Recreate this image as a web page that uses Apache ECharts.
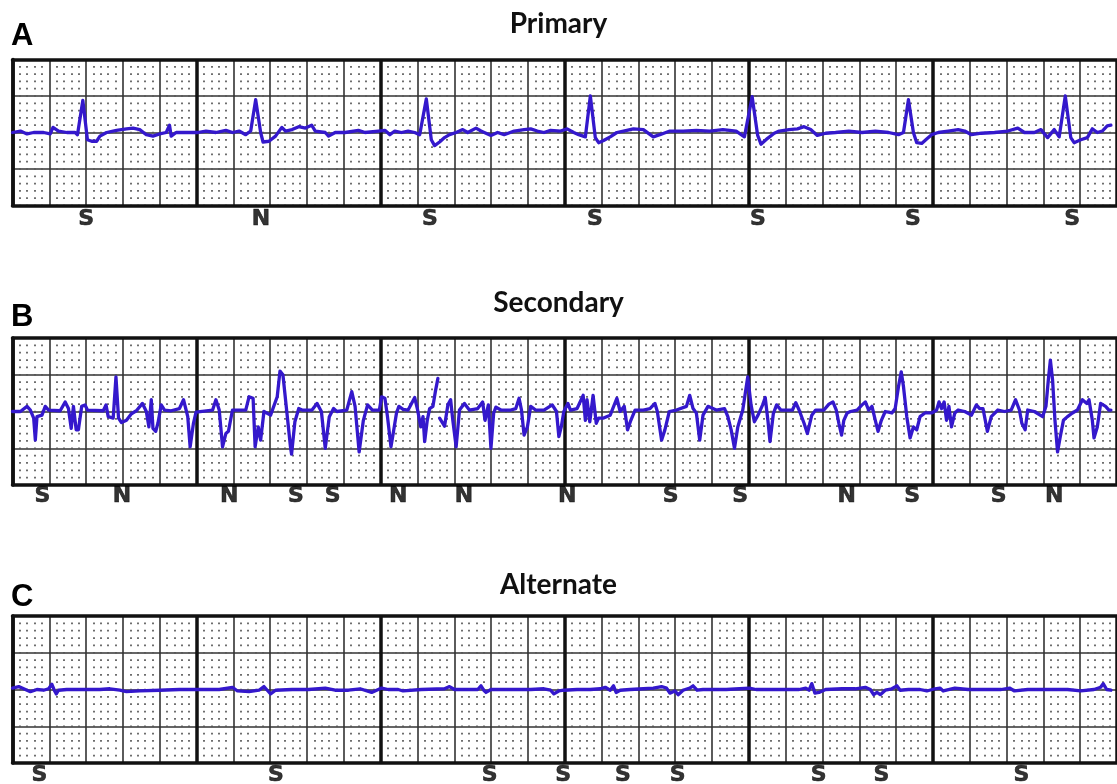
<!DOCTYPE html>
<html>
<head>
<meta charset="utf-8">
<script src="https://cdn.jsdelivr.net/npm/echarts@6/dist/echarts.min.js"></script>
<style>
html,body{margin:0;padding:0;background:#fff;}
#chart{width:1117px;height:784px;}
</style>
</head>
<body>
<div id="chart"></div>
<script>
// time in ms, amplitude in mV
const primaryTrace = [
[0,0],[43,0.02],[79,-0.02],[115,0],[169,0],[205,-0.02],[220,0.07],[250,0.02],[295,0],[340,0],[353,-0.03],[382,0.44],[407,-0.10],[430,-0.12],[457,-0.12],[475,-0.05],[511,0],[565,0.03],[619,0.05],[655,0.06],[691,0.04],[727,-0.03],[763,-0.05],[799,-0.02],[835,0],[853,0.10],[862,-0.05],[889,0],[943,0],[1006,0],[1051,0.02],[1105,0],[1159,0.03],[1195,0],[1231,0.02],[1267,-0.03],[1294,0.02],[1321,0.45],[1348,0],[1361,-0.13],[1393,-0.12],[1429,-0.05],[1463,0.07],[1483,0.02],[1519,0.04],[1555,0.08],[1591,0.06],[1625,0.10],[1645,0.02],[1699,0],[1717,-0.05],[1753,0],[1807,0],[1879,0.03],[1915,0],[1987,0.02],[2023,0.03],[2050,-0.03],[2077,0.02],[2113,0],[2149,0.02],[2185,0],[2212,-0.03],[2248,0.46],[2275,-0.10],[2293,-0.18],[2320,-0.13],[2347,-0.07],[2374,-0.03],[2410,0],[2446,0.04],[2473,0],[2518,0.06],[2545,0.02],[2599,-0.04],[2635,0],[2671,-0.03],[2725,0.02],[2779,0.04],[2815,0.05],[2851,0.02],[2887,0],[2923,0.03],[2977,0.02],[3013,0.05],[3049,0],[3076,-0.03],[3112,-0.06],[3139,0.50],[3166,-0.07],[3184,-0.14],[3211,-0.11],[3247,-0.06],[3283,0],[3319,0.02],[3373,0.05],[3427,0.04],[3481,-0.06],[3517,-0.03],[3571,0.02],[3643,0.02],[3715,0.03],[3787,0.02],[3859,0.04],[3931,0.02],[3976,-0.06],[4018,0.49],[4048,-0.04],[4066,-0.16],[4102,-0.08],[4138,-0.01],[4165,0.02],[4219,0.04],[4264,0.05],[4300,0.08],[4336,0.04],[4372,-0.04],[4417,-0.01],[4471,0],[4543,0.02],[4615,0],[4687,0.02],[4759,0],[4813,-0.03],[4840,0],[4867,0.45],[4894,0],[4912,-0.14],[4939,-0.15],[4966,-0.09],[4993,-0.03],[5029,0],[5083,0.02],[5137,0.04],[5173,0.02],[5209,-0.03],[5263,-0.01],[5335,0],[5407,0.02],[5461,0.06],[5497,0],[5551,0],[5587,0.04],[5623,-0.07],[5659,0.04],[5686,-0.06],[5719,0.50],[5749,-0.07],[5767,-0.14],[5803,-0.10],[5839,-0.07],[5866,0.05],[5893,0],[5920,0.02],[5947,0.09],[5967,0.10]
];

const secondaryTrace = [
[0,0],[43,0],[79,0.07],[97,0.02],[115,-0.09],[124,-0.39],[133,-0.07],[160,-0.05],[178,0.07],[196,0.02],[259,0.01],[286,0.13],[304,0.04],[319,-0.23],[331,0.07],[346,-0.25],[358,-0.25],[376,0.07],[394,0.09],[407,0.02],[493,0.01],[508,0.09],[520,-0.07],[547,-0.09],[562,0.47],[576,-0.09],[592,-0.15],[619,-0.12],[646,-0.03],[673,0.01],[706,0.11],[727,0],[741,-0.21],[754,0.16],[763,-0.23],[778,-0.27],[790,-0.16],[808,0.09],[826,0.02],[862,0.01],[907,0.04],[929,0.16],[952,-0.07],[965,-0.48],[983,-0.16],[997,-0.01],[1087,0.02],[1105,0.16],[1123,0.02],[1141,-0.48],[1159,-0.30],[1173,-0.27],[1195,0.02],[1267,0.02],[1285,0.20],[1307,0.18],[1318,-0.48],[1335,-0.21],[1348,-0.39],[1366,0],[1402,-0.05],[1438,0.20],[1453,0.55],[1469,0.50],[1487,0.07],[1510,-0.48],[1516,-0.58],[1534,-0.14],[1555,0.04],[1573,0.02],[1627,0.02],[1654,0.11],[1678,0],[1699,-0.50],[1721,-0.07],[1744,0.04],[1762,0],[1816,0.02],[1843,0.27],[1861,0.07],[1883,-0.55],[1906,-0.12],[1929,0.09],[1955,0.02],[1993,0.02],[2005,0.20],[2023,0.18],[2037,-0.07],[2056,-0.48],[2068,-0.30],[2086,-0.02],[2099,0.07],[2122,0.03],[2149,0.02],[2185,0.19],[2199,0.04],[2218,-0.21],[2230,-0.07],[2239,-0.41],[2253,-0.12],[2266,0.04],[2284,0.07],[2297,0.27],[2311,0.45],[2315,null],[2320,-0.09],[2347,-0.20],[2365,0.09],[2380,0.16],[2392,-0.12],[2410,-0.48],[2428,0.02],[2455,0.11],[2482,0.02],[2527,0.04],[2554,0.13],[2567,-0.12],[2585,0.09],[2599,-0.50],[2614,-0.02],[2626,0.06],[2653,0.02],[2707,0.02],[2734,0.04],[2752,0.18],[2765,0.02],[2779,-0.32],[2797,-0.21],[2815,0.07],[2842,0.02],[2887,0.02],[2932,0.09],[2955,0],[2968,-0.34],[2981,-0.21],[2995,0],[3017,0.11],[3031,0.02],[3067,0.04],[3100,0.22],[3112,-0.12],[3121,0.16],[3136,-0.14],[3154,0.22],[3171,-0.16],[3184,-0.09],[3211,-0.09],[3247,-0.05],[3283,0.18],[3301,0],[3323,0.07],[3341,-0.25],[3359,-0.12],[3382,0.02],[3427,0.02],[3463,0.04],[3490,0.11],[3503,0],[3526,-0.39],[3544,-0.25],[3568,0],[3607,0.02],[3661,0.07],[3679,0.22],[3697,0.04],[3715,-0.02],[3733,-0.39],[3751,-0.05],[3778,0.07],[3823,0.02],[3868,0.04],[3886,-0.07],[3904,-0.25],[3922,-0.50],[3940,-0.21],[3967,0.02],[3994,0.47],[4012,0.09],[4030,-0.14],[4050,-0.05],[4075,0.09],[4089,0.19],[4104,-0.13],[4115,-0.41],[4133,-0.03],[4151,0.09],[4174,0.02],[4237,0.02],[4255,0.12],[4273,0.02],[4300,-0.16],[4318,-0.30],[4342,-0.05],[4363,0.02],[4408,0.02],[4435,0.10],[4457,0.13],[4475,0.02],[4489,-0.16],[4504,-0.32],[4516,-0.12],[4534,-0.02],[4552,0],[4588,0.02],[4615,0.09],[4633,0.13],[4651,0.02],[4669,0.07],[4687,-0.12],[4702,-0.27],[4720,-0.12],[4741,0],[4777,-0.02],[4795,0.04],[4813,0.34],[4828,0.54],[4840,0.34],[4858,-0.07],[4876,-0.36],[4894,-0.21],[4912,-0.25],[4930,-0.07],[4957,-0.02],[4993,-0.02],[5020,0.02],[5033,0.13],[5047,0.04],[5061,0.13],[5074,-0.12],[5087,0.07],[5101,-0.21],[5119,-0.02],[5137,0.02],[5173,0],[5209,-0.05],[5236,0.09],[5254,0.04],[5272,0.04],[5296,-0.27],[5317,-0.07],[5353,0.02],[5389,0],[5425,0.02],[5449,0.16],[5470,0.02],[5483,-0.16],[5501,-0.25],[5515,0.02],[5551,0],[5596,-0.07],[5614,0.07],[5627,0.43],[5638,0.70],[5650,0.43],[5663,-0.12],[5677,-0.55],[5692,-0.34],[5709,-0.12],[5731,-0.07],[5758,-0.02],[5785,0.02],[5812,0.16],[5836,0.11],[5848,0.16],[5866,-0.12],[5875,-0.36],[5893,-0.21],[5911,0.11],[5938,0.07],[5956,0.02],[5967,0.02]
];

const alternateTrace = [
[0,0.02],[34,0.04],[61,0.01],[97,-0.03],[133,0],[169,-0.01],[196,0.01],[214,0.07],[227,-0.01],[238,-0.06],[250,-0.01],[295,0],[385,0],[475,0],[529,0.01],[583,-0.01],[619,-0.03],[691,-0.02],[799,-0.01],[907,0],[979,0],[1051,0],[1123,0],[1195,0.03],[1222,-0.02],[1285,-0.03],[1339,-0.01],[1366,0.04],[1384,-0.01],[1402,-0.06],[1429,-0.01],[1519,0],[1609,0],[1699,0.02],[1753,-0.01],[1825,-0.01],[1888,0.01],[1951,-0.04],[1978,-0.01],[2005,0.02],[2041,0],[2095,0],[2122,-0.02],[2221,0],[2347,0.01],[2374,0.04],[2401,0],[2473,0],[2527,0],[2545,0.05],[2560,-0.01],[2572,-0.04],[2599,0],[2707,0],[2815,0],[2887,0.01],[2923,-0.01],[2941,-0.06],[2968,-0.02],[2995,-0.01],[3067,0],[3139,0],[3193,0.01],[3220,0.03],[3247,-0.01],[3265,0.05],[3279,-0.04],[3301,-0.01],[3355,0],[3427,0.01],[3481,0.02],[3526,0.04],[3553,0.02],[3571,-0.05],[3598,-0.02],[3616,-0.07],[3643,-0.01],[3679,0.02],[3697,0.05],[3719,-0.01],[3751,0],[3805,0],[3877,0],[3949,0.01],[4003,0.02],[4039,0],[4111,0],[4201,0],[4273,0],[4309,0.02],[4327,-0.01],[4342,0.08],[4359,-0.05],[4381,-0.04],[4417,0],[4507,0.01],[4579,0.01],[4633,0.03],[4660,0],[4678,-0.07],[4696,-0.04],[4714,-0.07],[4741,-0.01],[4777,0.01],[4804,0.05],[4822,-0.01],[4867,0],[4930,0],[4967,-0.02],[5011,0.01],[5038,0.02],[5056,-0.02],[5119,0.02],[5191,0],[5281,0],[5371,0],[5416,0.02],[5443,-0.02],[5515,0],[5623,0],[5731,0],[5803,-0.02],[5875,0],[5911,0.03],[5925,0.08],[5944,0],[5967,-0.01]
];

const primaryBeatTimes = [400,1350,2268,3164,4050,4892,5756];
const primaryBeatTypes = ['S','N','S','S','S','S','S'];
const secondaryBeatTimes = [162,594,1177,1539,1739,2095,2452,3013,3575,3953,4531,4887,5357,5659];
const secondaryBeatTypes = ['S','N','N','S','S','N','N','N','S','S','N','S','S','N'];
const alternateBeatTimes = [146,1431,2592,2992,3316,3613,4379,4720,5481];
const alternateBeatTypes = ['S','S','S','S','S','S','S','S','S'];

const panelTitles = ['Primary','Secondary','Alternate'];
const panelLetters = ['A','B','C'];

const TRACE_COLOR = '#3418cc';
const layout = [
  {top:59.5, height:146, titleTop:10, letterTop:21, labelDist:3, dash:[1.7,5.6]},
  {top:338, height:147, titleTop:289, letterTop:302, labelDist:0, dash:[1.7,5.65]},
  {top:616, height:147, titleTop:571, letterTop:582, labelDist:1, dash:[1.7,5.65]}
];
const traces = [primaryTrace, secondaryTrace, alternateTrace];
const beatTimes = [primaryBeatTimes, secondaryBeatTimes, alternateBeatTimes];
const beatTypes = [primaryBeatTypes, secondaryBeatTypes, alternateBeatTypes];

const grid = [], xAxis = [], yAxis = [], series = [], title = [];
layout.forEach((L, i) => {
  grid.push({left:12.5, top:L.top, width:1111, height:L.height, show:false});
  // medium 0.2 s lines + dotted minor columns, top border
  xAxis.push({
    gridIndex:i, type:'value', min:0, max:6000, interval:200, position:'top',
    axisLine:{show:true, onZero:false, lineStyle:{color:'#111', width:3.5}},
    axisTick:{show:false}, axisLabel:{show:false},
    splitLine:{show:true, lineStyle:{color:'#333', width:1.6}},
    minorTick:{show:false, splitNumber:5},
    minorSplitLine:{show:true, lineStyle:{color:'#555', width:1.7, type:L.dash, dashOffset:0.85}}
  });
  // thick 1 s lines, bottom border
  xAxis.push({
    gridIndex:i, type:'value', min:0, max:6000, interval:1000, position:'bottom', z:1,
    axisLine:{show:true, onZero:false, lineStyle:{color:'#111', width:3.5}},
    axisTick:{show:false}, axisLabel:{show:false},
    splitLine:{show:true, lineStyle:{color:'#111', width:3.5}}
  });
  yAxis.push({
    gridIndex:i, type:'value', min:-1, max:1, interval:0.5,
    axisLine:{show:true, onZero:false, lineStyle:{color:'#111', width:3.5}},
    axisTick:{show:false}, axisLabel:{show:false},
    splitLine:{show:true, lineStyle:{color:'#333', width:1.6}}
  });
  series.push({
    type:'line', xAxisIndex:2*i, yAxisIndex:i, data:traces[i],
    showSymbol:false, symbol:'none', connectNulls:false, z:3,
    lineStyle:{color:TRACE_COLOR, width:3.3, join:'round', cap:'round'},
    silent:true
  });
  series.push({
    type:'scatter', xAxisIndex:2*i, yAxisIndex:i, symbolSize:0, z:4, silent:true,
    data: beatTimes[i].map((t, k) => ({name: beatTypes[i][k], value:[t, -1]})),
    label:{show:true, position:'bottom', distance:L.labelDist, formatter:'{b}',
      fontFamily:'DejaVu Sans', fontWeight:'bold', fontSize:22, color:'#000', lineHeight:22,
      textBorderColor:'#000', textBorderWidth:0.6}
  });
  title.push({text:panelTitles[i], left:'center', top:L.titleTop, padding:0,
    textStyle:{fontFamily:'Lato', fontWeight:'bold', fontSize:28, color:'#111'}});
  title.push({text:panelLetters[i], left:11, top:L.letterTop, padding:0,
    textStyle:{fontFamily:'Liberation Sans', fontWeight:'bold', fontSize:31, color:'#000'}});
});

const chart = echarts.init(document.getElementById('chart'), null, {renderer:'canvas', width:1117, height:784});
chart.setOption({
  animation:false, backgroundColor:'#fff',
  title, grid, xAxis, yAxis, series
});
</script>
</body>
</html>
